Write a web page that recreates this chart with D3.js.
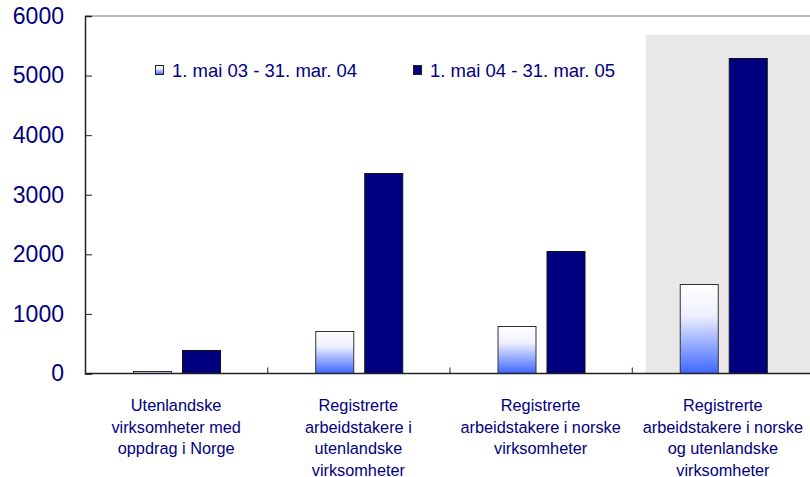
<!DOCTYPE html>
<html>
<head>
<meta charset="utf-8">
<script src="https://cdn.jsdelivr.net/npm/d3@7"></script>
<style>
  html, body { margin: 0; padding: 0; background: #fff; }
  svg { display: block; font-family: "Liberation Sans", Arial, sans-serif; }
</style>
</head>
<body>
<div id="chart"></div>
<script>
// Data
const categories = [
    ['Utenlandske', 'virksomheter med', 'oppdrag i Norge'],
    ['Registrerte', 'arbeidstakere i', 'utenlandske', 'virksomheter'],
    ['Registrerte', 'arbeidstakere i norske', 'virksomheter'],
    ['Registrerte', 'arbeidstakere i norske', 'og utenlandske', 'virksomheter']
];
const seriesNames = ['1. mai 03 - 31. mar. 04', '1. mai 04 - 31. mar. 05'];
const period1 = [45, 720, 800, 1500];
const period2 = [390, 3370, 2060, 5300];
const yTicks = [0, 1000, 2000, 3000, 4000, 5000, 6000];

const W = 810, H = 477;
const textColor = '#000080';
const margin = { left: 85, top: 16, right: -4, bottom: 103 };

const svg = d3.select('#chart').append('svg')
    .attr('width', W)
    .attr('height', H);

const defs = svg.append('defs');
const grad = defs.append('linearGradient')
    .attr('id', 'lightGrad')
    .attr('x1', 0).attr('y1', 0).attr('x2', 0).attr('y2', 1);
grad.append('stop').attr('offset', '0%').attr('stop-color', '#ffffff');
grad.append('stop').attr('offset', '35%').attr('stop-color', '#eef0ff');
grad.append('stop').attr('offset', '100%').attr('stop-color', '#3d66ff');

const x0 = d3.scaleBand()
    .domain(d3.range(categories.length))
    .range([margin.left, W - margin.right]);

const x1 = d3.scaleBand()
    .domain([0, 1])
    .range([0, x0.bandwidth()])
    .paddingInner(0.224)
    .paddingOuter(0.97);

const y = d3.scaleLinear()
    .domain([0, 6000])
    .range([H - margin.bottom - 0.5, margin.top]);

// Highlight panel behind the last category
svg.append('rect')
    .attr('x', x0(3) + 14)
    .attr('y', 35)
    .attr('width', W - x0(3) - 14)
    .attr('height', y(0) - 35)
    .attr('fill', '#e8e8e8');

// Top frame line
svg.append('line')
    .attr('x1', margin.left).attr('x2', W)
    .attr('y1', y(6000)).attr('y2', y(6000))
    .attr('stroke', '#777').attr('stroke-width', 1);

// Bars
const groups = svg.selectAll('.cat')
    .data(categories.map((c, i) => ({ i, values: [period1[i], period2[i]] })))
    .enter().append('g')
    .attr('class', 'cat')
    .attr('transform', d => `translate(${x0(d.i)},0)`);

groups.selectAll('rect')
    .data(d => d.values.map((v, s) => ({ v, s })))
    .enter().append('rect')
    .attr('x', d => Math.round(x1(d.s)) + 0.5)
    .attr('y', d => Math.round(y(d.v)) + 0.5)
    .attr('width', Math.round(x1.bandwidth()))
    .attr('height', d => y(0) - Math.round(y(d.v)) - 0.5)
    .attr('fill', d => d.s === 0 ? 'url(#lightGrad)' : '#000080')
    .attr('stroke', d => d.s === 0 ? '#333' : '#111')
    .attr('stroke-width', 1);

// Y axis
const yAxis = d3.axisLeft(y)
    .tickValues(yTicks)
    .tickSize(-7)
    .tickPadding(21)
    .tickFormat(d3.format('d'));

const gy = svg.append('g')
    .attr('transform', `translate(${margin.left},0)`)
    .call(yAxis);
gy.select('.domain').attr('stroke', '#222').attr('stroke-width', 1.5);
gy.selectAll('.tick line').attr('stroke', '#222');
gy.selectAll('.tick text')
    .attr('fill', textColor)
    .attr('font-size', '23px')
    .attr('font-family', '"Liberation Sans", Arial, sans-serif');

// X baseline + category separators
svg.append('line')
    .attr('x1', margin.left).attr('x2', W)
    .attr('y1', y(0)).attr('y2', y(0))
    .attr('stroke', '#222').attr('stroke-width', 1.5);

svg.selectAll('.sep')
    .data(d3.range(1, categories.length))
    .enter().append('line')
    .attr('class', 'sep')
    .attr('x1', d => x0(d) + 0.5).attr('x2', d => x0(d) + 0.5)
    .attr('y1', y(0)).attr('y2', y(0) - 6)
    .attr('stroke', '#222');

// Category labels
const labels = svg.selectAll('.clabel')
    .data(categories)
    .enter().append('text')
    .attr('class', 'clabel')
    .attr('x', (d, i) => x0(i) + x0.bandwidth() / 2)
    .attr('y', 411)
    .attr('text-anchor', 'middle')
    .attr('fill', textColor)
    .attr('font-size', '16.3px');

labels.selectAll('tspan')
    .data(d => d)
    .enter().append('tspan')
    .attr('x', function () { return d3.select(this.parentNode).attr('x'); })
    .attr('dy', (d, i) => i === 0 ? 0 : 21.5)
    .text(d => d);

// Legend
const legendPos = [155, 413];
const legend = svg.append('g');
seriesNames.forEach((name, i) => {
    legend.append('rect')
        .attr('x', legendPos[i] + 0.5)
        .attr('y', 65.5)
        .attr('width', 8)
        .attr('height', 9)
        .attr('fill', i === 0 ? 'url(#lightGrad)' : '#000080')
        .attr('stroke', '#222');
    legend.append('text')
        .attr('x', legendPos[i] + 17)
        .attr('y', 77)
        .attr('fill', textColor)
        .attr('font-size', '18.5px')
        .text(name);
});
</script>
</body>
</html>
